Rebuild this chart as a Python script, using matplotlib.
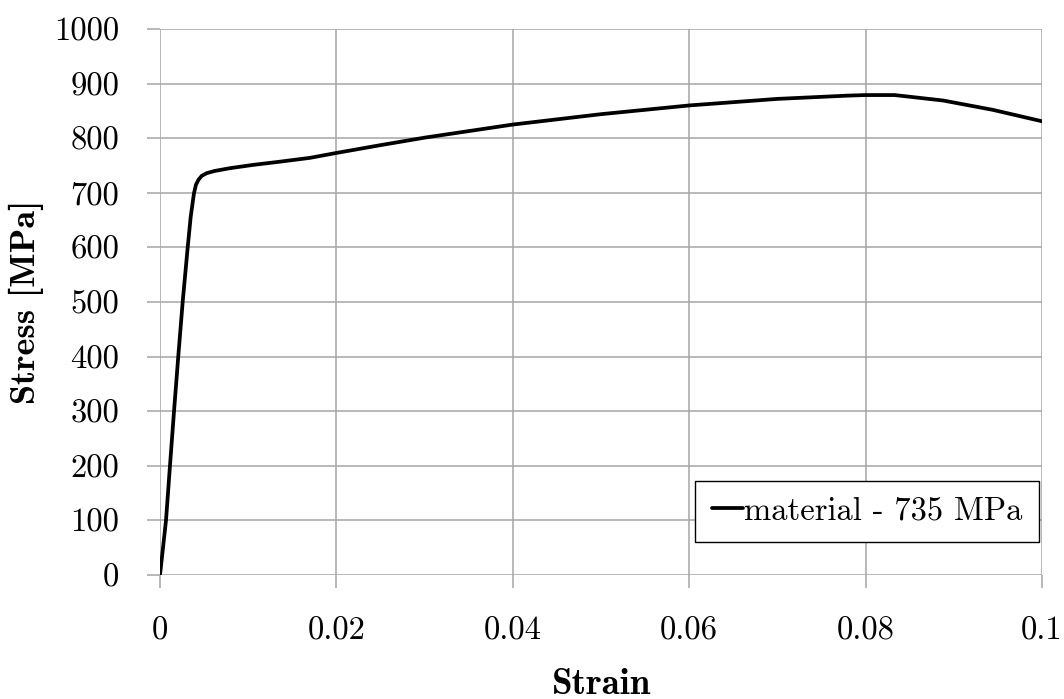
import matplotlib
matplotlib.use("Agg")
import matplotlib.pyplot as plt

strain = [0.0, 0.00068, 0.00113, 0.00159, 0.00207, 0.00257, 0.00314, 0.00348, 0.00385,
          0.00408, 0.00437, 0.00473, 0.0053, 0.0062, 0.0079, 0.0105, 0.0136, 0.0170,
          0.0200, 0.0249, 0.0300, 0.0400, 0.0500, 0.0600, 0.0700, 0.0780, 0.0800,
          0.0833, 0.0888, 0.0944, 0.1000]
stress = [0, 100, 200, 300, 400, 500, 600, 656, 699,
          715, 724, 731, 736, 740, 745, 751, 757, 764,
          773, 787, 801, 825, 844, 860, 872, 878, 879,
          879, 869, 852, 831]

xticks = [0, 0.02, 0.04, 0.06, 0.08, 0.1]
xticklabels = ["0", "0.02", "0.04", "0.06", "0.08", "0.1"]
yticks = [0, 100, 200, 300, 400, 500, 600, 700, 800, 900, 1000]
yticklabels = [str(v) for v in yticks]
series_label = "material - 735 MPa"

plt.rcParams['axes.unicode_minus'] = False
fig = plt.figure(figsize=(10.64, 6.99), dpi=100)
ax = fig.add_axes([160/1064, 1 - 575/699, (1042-160)/1064, (575-29)/699])

grid_c = "#a6a6a6"
ax.plot(strain, stress, color="black", lw=2.7, label=series_label,
        solid_capstyle="round", solid_joinstyle="round", zorder=3)
ax.set_xlim(0, 0.1)
ax.set_ylim(0, 1000)
ax.set_xticks(xticks)
ax.set_xticklabels(xticklabels, family="cmr10", fontsize=23.5)
ax.set_yticks(yticks)
ax.set_yticklabels(yticklabels, family="cmr10", fontsize=23.5)
ax.grid(True, color=grid_c, lw=1.1)
for s in ax.spines.values():
    s.set_visible(False)
ax.tick_params(axis="both", direction="out", length=9.5, width=1.1, color=grid_c)
ax.tick_params(axis="x", pad=20.5)
ax.tick_params(axis="y", pad=20)

ax.set_xlabel("Strain", family="cmb10", fontsize=26.5, labelpad=16)
ax.set_ylabel("Stress [MPa]", family="cmb10", fontsize=26, labelpad=7)

leg = ax.legend(loc="lower right", bbox_to_anchor=(0.9966, 0.06), prop={"family": "cmr10", "size": 23.5},
                frameon=True, fancybox=False, edgecolor="black", framealpha=1,
                handlelength=0.95, handletextpad=0.05, borderpad=0.5, borderaxespad=0)
leg.get_frame().set_linewidth(1.0)

fig.savefig("out.png", dpi=100)
